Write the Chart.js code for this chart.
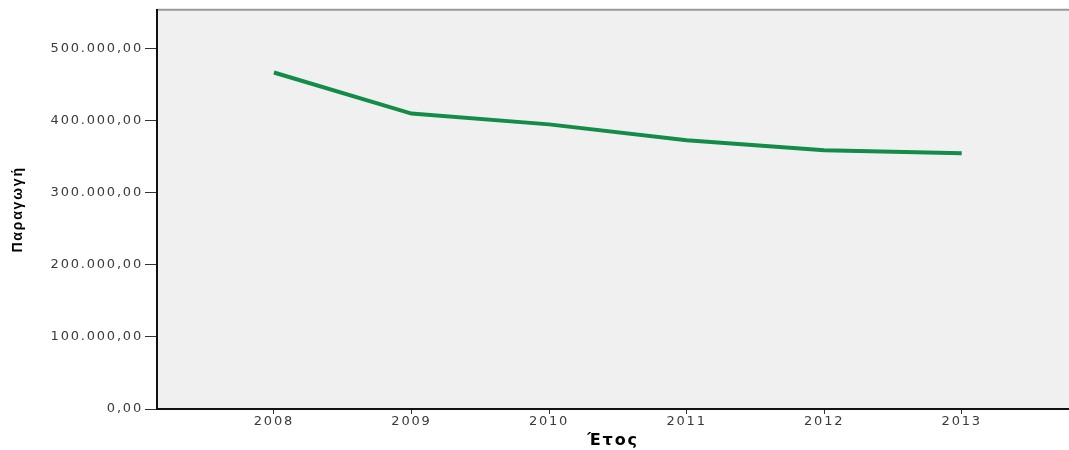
<!DOCTYPE html>
<html>
<head>
<meta charset="utf-8">
<script src="https://cdn.jsdelivr.net/npm/chart.js@4"></script>
<style>
  html, body { margin: 0; padding: 0; background: #fff; }
  #wrap { width: 1069px; height: 450px; }
</style>
</head>
<body>
<div id="wrap">
  <canvas id="productionCanvas"></canvas>
</div>
<script>
// years on the x axis and production per year
const years = [2008, 2009, 2010, 2011, 2012, 2013];
const production = [467000, 410000, 395000, 373000, 359000, 355000];
const yTicks = [0, 100000, 200000, 300000, 400000, 500000];

// 500000 -> "500.000,00"
function greekNumber(v) {
    const s = Math.round(v).toString().replace(/\B(?=(\d{3})+(?!\d))/g, ".");
    return s + ",00";
}

const panelPlugin = {
    id: "panel",
    beforeDraw(chart) {
        const ctx = chart.ctx;
        const a = chart.chartArea;
        ctx.letterSpacing = "1.8px";
        ctx.save();
        ctx.fillStyle = "#f0f0f0";
        ctx.fillRect(a.left, a.top, a.right - a.left, a.bottom - a.top);
        // top frame line
        ctx.strokeStyle = "#9a9a9a";
        ctx.lineWidth = 2;
        ctx.beginPath();
        ctx.moveTo(a.left, a.top);
        ctx.lineTo(a.right, a.top);
        ctx.stroke();
        ctx.restore();
    }
};

const points = years.map((y, i) => ({ x: y, y: production[i] }));

new Chart(document.querySelector("#productionCanvas"), {
    type: "line",
    data: {
        datasets: [{
            label: "Παραγωγή",
            data: points,
            borderColor: "#128c47",
            borderWidth: 4,
            pointRadius: 0,
            tension: 0,
            borderCapStyle: "butt"
        }]
    },
    options: {
        responsive: true,
        maintainAspectRatio: false,
        animation: false,
        layout: { padding: { top: 9, right: 0, left: 0, bottom: 0 } },
        plugins: {
            legend: { display: false },
            tooltip: { enabled: false }
        },
        scales: {
            x: {
                type: "linear",
                min: 2007.15,
                max: 2013.78,
                afterBuildTicks: (scale) => {
                    scale.ticks = years.map(v => ({ value: v }));
                },
                afterFit: (scale) => { scale.height = 41; },
                ticks: {
                    callback: (v) => String(v),
                    color: "#3a3a3a",
                    font: { family: "DejaVu Sans", size: 13 },
                    padding: 0,
                    maxRotation: 0
                },
                grid: {
                    drawOnChartArea: false,
                    drawTicks: true,
                    tickLength: 5,
                    color: "#333"
                },
                border: { display: true, color: "#111", width: 2 },
                title: {
                    display: true,
                    text: "Έτος",
                    color: "#000",
                    font: { family: "DejaVu Sans", size: 16, weight: "bold" },
                    padding: { top: 0, bottom: 0 }
                }
            },
            y: {
                min: 0,
                max: 554000,
                afterBuildTicks: (scale) => {
                    scale.ticks = yTicks.map(v => ({ value: v }));
                },
                afterFit: (scale) => { scale.width = 157; },
                ticks: {
                    callback: (v) => greekNumber(v),
                    color: "#3a3a3a",
                    font: { family: "DejaVu Sans", size: 13 },
                    padding: 2
                },
                grid: {
                    drawOnChartArea: false,
                    drawTicks: true,
                    tickLength: 12,
                    color: "#333"
                },
                border: { display: true, color: "#111", width: 2 },
                title: {
                    display: true,
                    text: "Παραγωγή",
                    color: "#000",
                    font: { family: "Liberation Sans", size: 14, weight: "bold" },
                    padding: { top: 10, bottom: 0 }
                }
            }
        }
    },
    plugins: [panelPlugin]
});
</script>
</body>
</html>
